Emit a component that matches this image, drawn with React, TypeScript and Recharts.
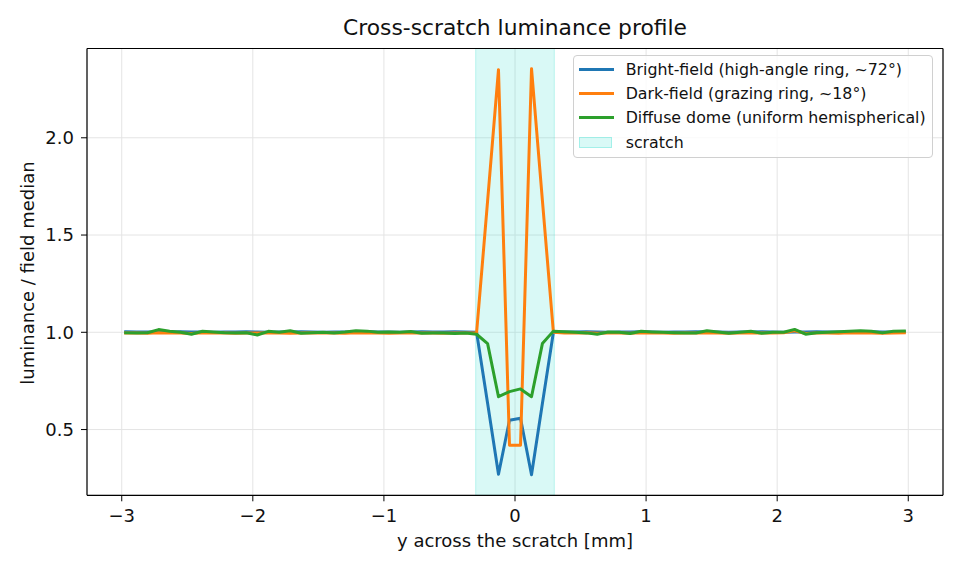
import React from 'react'
import {
    LineChart,
    Line,
    XAxis,
    YAxis,
    CartesianGrid,
    ReferenceArea,
    ReferenceLine,
    Legend,
} from 'recharts'

// sample positions across the scratch [mm]
const yPositions = [
    -2.970, -2.886, -2.803, -2.719, -2.635, -2.552, -2.468, -2.384, -2.301, -2.217,
    -2.133, -2.050, -1.966, -1.882, -1.799, -1.715, -1.631, -1.548, -1.464, -1.380,
    -1.297, -1.213, -1.129, -1.046, -0.962, -0.878, -0.795, -0.711, -0.627, -0.544,
    -0.460, -0.376, -0.293, -0.209, -0.126, -0.042, 0.042, 0.126, 0.209, 0.293,
    0.376, 0.460, 0.544, 0.627, 0.711, 0.795, 0.878, 0.962, 1.046, 1.129,
    1.213, 1.297, 1.380, 1.464, 1.548, 1.631, 1.715, 1.799, 1.882, 1.966,
    2.050, 2.133, 2.217, 2.301, 2.384, 2.468, 2.552, 2.635, 2.719, 2.803,
    2.886, 2.970,
]

const brightField = [
    1.003, 1.002, 1.001, 1.000, 1.002, 1.003, 1.001, 1.002, 1.000, 1.001,
    1.002, 1.003, 1.001, 1.000, 1.002, 1.001, 1.003, 1.002, 1.000, 1.001,
    1.002, 1.001, 1.003, 1.002, 1.001, 1.000, 1.002, 1.003, 1.001, 1.002,
    1.003, 1.002, 1.000, 0.635, 0.270, 0.548, 0.558, 0.268, 0.634, 1.000,
    1.002, 1.001, 1.003, 1.002, 1.000, 1.001, 1.002, 1.003, 1.001, 1.000,
    1.002, 1.001, 1.003, 1.002, 1.001, 1.000, 1.002, 1.001, 1.003, 1.002,
    1.000, 1.002, 1.001, 1.003, 1.002, 1.001, 1.000, 1.002, 1.003, 1.001,
    1.002, 1.003,
]

const darkField = [
    0.996, 0.997, 0.995, 0.998, 0.996, 0.997, 0.994, 0.998, 0.997, 0.996,
    0.995, 0.997, 0.996, 0.998, 0.997, 0.995, 0.996, 0.998, 0.997, 0.996,
    0.995, 0.998, 0.996, 0.997, 0.995, 0.996, 0.998, 0.997, 0.996, 0.995,
    0.997, 0.996, 0.998, 1.675, 2.350, 0.419, 0.419, 2.355, 1.678, 1.000,
    0.997, 0.996, 0.998, 0.995, 0.997, 0.996, 0.995, 0.998, 0.997, 0.996,
    0.995, 0.997, 0.996, 0.998, 0.997, 0.995, 0.996, 0.998, 0.997, 0.996,
    0.998, 1.008, 0.994, 0.996, 0.997, 0.995, 0.998, 0.996, 0.997, 0.995,
    0.996, 0.997,
]

const diffuseDome = [
    0.997, 0.996, 0.998, 1.014, 1.005, 1.000, 0.990, 1.005, 1.002, 0.998,
    0.997, 0.998, 0.986, 1.005, 1.000, 1.008, 0.995, 0.998, 1.000, 0.996,
    1.001, 1.008, 1.006, 1.000, 1.001, 1.000, 1.004, 0.995, 0.997, 0.996,
    0.994, 0.996, 0.990, 0.942, 0.669, 0.695, 0.709, 0.669, 0.942, 1.006,
    1.003, 1.000, 0.997, 0.990, 1.002, 1.000, 0.994, 1.005, 1.002, 1.000,
    0.998, 0.996, 0.996, 1.008, 1.001, 0.995, 1.000, 1.005, 0.995, 1.000,
    1.000, 1.015, 0.990, 0.998, 1.000, 1.003, 1.005, 1.008, 1.005, 0.997,
    1.005, 1.006,
]

const scratchEdges = [-0.3, 0.3]
const xTicks = [-3, -2, -1, 0, 1, 2, 3]
const yTicks = [0.5, 1.0, 1.5, 2.0]
const xDomain = [-3.265, 3.265]
const yDomain = [0.162, 2.459]

const seriesInfo = [
    { key: 'bright', name: 'Bright-field (high-angle ring, ~72°)', color: '#1f77b4' },
    { key: 'dark', name: 'Dark-field (grazing ring, ~18°)', color: '#ff7f0e' },
    { key: 'diffuse', name: 'Diffuse dome (uniform hemispherical)', color: '#2ca02c' },
]

const rows = yPositions.map((y, i) => ({
    x: y,
    bright: brightField[i],
    dark: darkField[i],
    diffuse: diffuseDome[i],
}))

const FONT = '"DejaVu Sans", sans-serif'
const fmtX = (v: number) => (v < 0 ? '\u2212' + Math.abs(v) : String(v))

const LegendBox = () => (
    <div style={{
        width: 360, height: 103, boxSizing: 'border-box',
        border: '1px solid #d0d0d0', borderRadius: 4,
        background: 'rgba(255,255,255,0.8)', fontFamily: FONT, fontSize: 15.8,
        color: '#111', paddingTop: 1,
    }}>
        {seriesInfo.map(s => (
            <div key={s.key} style={{ display: 'flex', alignItems: 'center', height: 24.4 }}>
                <span style={{ marginLeft: 5, width: 35, height: 3, background: s.color }} />
                <span style={{ marginLeft: 12, whiteSpace: 'nowrap' }}>{s.name}</span>
            </div>
        ))}
        <div style={{ display: 'flex', alignItems: 'center', height: 24.4 }}>
            <span style={{
                marginLeft: 5, width: 33, height: 11, boxSizing: 'border-box',
                background: 'rgba(64,224,208,0.2)', border: '1px solid rgba(64,224,208,0.35)',
            }} />
            <span style={{ marginLeft: 14 }}>scratch</span>
        </div>
    </div>
)

const App = () => {
    return (
        <div style={{ position: 'absolute', left: 0, top: 0, width: 962, height: 572, background: '#fff', fontFamily: FONT }}>
            <div style={{ position: 'absolute', left: 87, width: 856, top: 15, textAlign: 'center', fontSize: 21.8, color: '#111' }}>
                Cross-scratch luminance profile
            </div>
            <div style={{
                position: 'absolute', left: 27, top: 273, fontSize: 18, color: '#111', whiteSpace: 'nowrap',
                transform: 'translate(-50%, -50%) rotate(-90deg)',
            }}>
                luminance / field median
            </div>
            <div style={{ position: 'absolute', left: 87, width: 856, top: 530, textAlign: 'center', fontSize: 18, color: '#111' }}>
                y across the scratch [mm]
            </div>
            <LineChart width={962} height={572} data={rows}
                margin={{ top: 48.5, right: 19, left: 0, bottom: 0 }}
                style={{ position: 'absolute', left: 0, top: 0 }}>
                <CartesianGrid stroke="#e4e4e4" strokeWidth={1} />
                <XAxis type="number" dataKey="x" domain={xDomain} ticks={xTicks}
                    allowDataOverflow height={76.7} tickSize={6} tickMargin={8}
                    tickFormatter={fmtX}
                    tick={{ fill: '#111', fontSize: 18, fontFamily: FONT }}
                    stroke="#000" axisLine={{ stroke: '#000', strokeWidth: 1.2 }} />
                <YAxis type="number" domain={yDomain} ticks={yTicks} allowDataOverflow
                    width={87} tickSize={6} tickMargin={7}
                    tickFormatter={(v: number) => v.toFixed(1)}
                    tick={{ fill: '#111', fontSize: 18, fontFamily: FONT }}
                    stroke="#000" axisLine={{ stroke: '#000', strokeWidth: 1.2 }} />
                <ReferenceArea x1={scratchEdges[0]} x2={scratchEdges[1]} fill="#40e0d0" fillOpacity={0.2}
                    stroke="#40e0d0" strokeOpacity={0.3} />
                {seriesInfo.map(s => (
                    <Line key={s.key} type="linear" dataKey={s.key} name={s.name} stroke={s.color}
                        strokeWidth={3} dot={false} activeDot={false} isAnimationActive={false}
                        strokeLinejoin="round" strokeLinecap="square" />
                ))}
                {/* top and right spines */}
                <ReferenceLine y={yDomain[1]} stroke="#000" strokeWidth={1.2} ifOverflow="visible" />
                <ReferenceLine x={xDomain[1]} stroke="#000" strokeWidth={1.2} ifOverflow="visible" />
                <Legend layout="vertical" align="center" verticalAlign="middle"
                    content={<LegendBox />}
                    wrapperStyle={{ position: 'absolute', left: 572.7, top: 55, width: 360, height: 103 }} />
            </LineChart>
        </div>
    )
}

export default App
